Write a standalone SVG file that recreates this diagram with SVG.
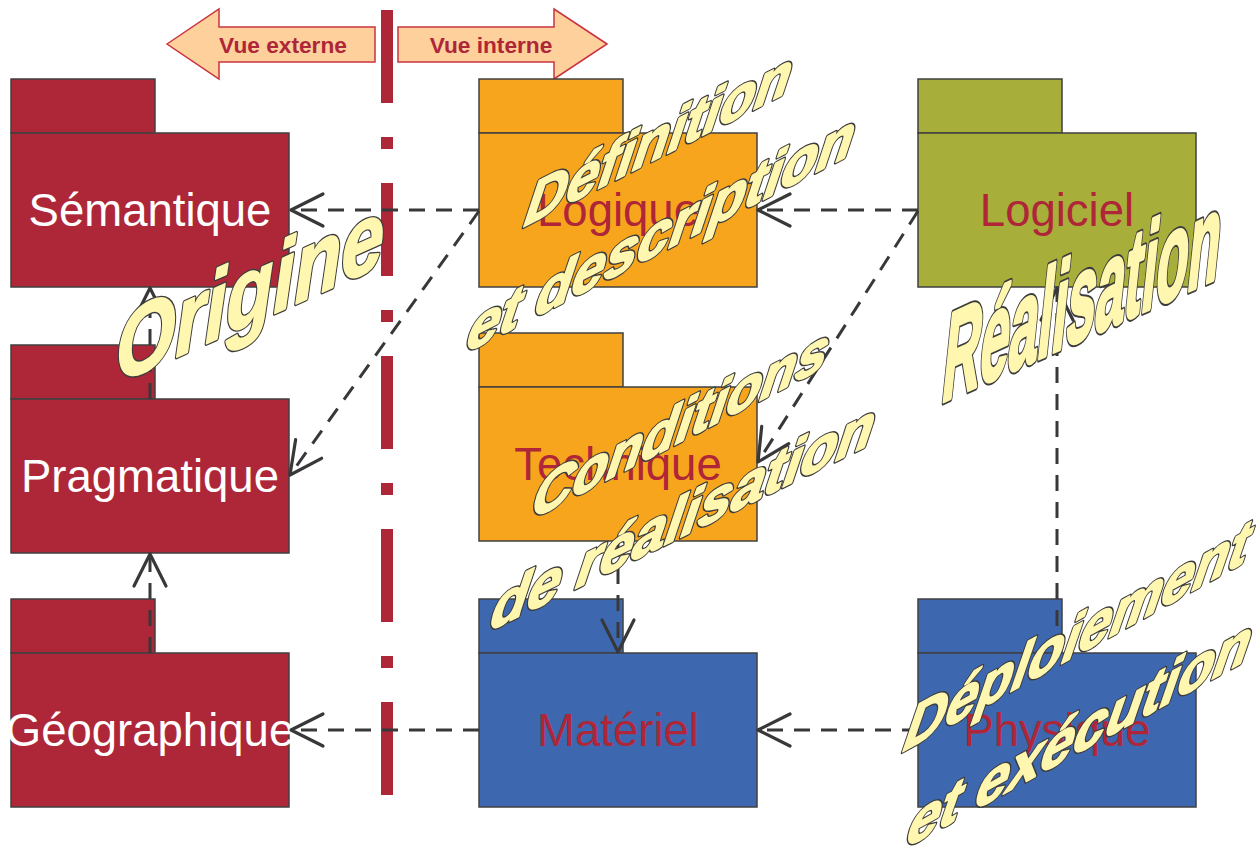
<svg xmlns="http://www.w3.org/2000/svg" xmlns:xlink="http://www.w3.org/1999/xlink" width="1258" height="847" viewBox="0 0 1258 847">
<style>
.pk{stroke:#404040;stroke-width:1.5}
.red{fill:#AE2739}.org{fill:#F6A51D}.olv{fill:#A8AE3A}.blu{fill:#3D68B0}
.lbl{font-family:"Liberation Sans",Arial,sans-serif;font-size:45.5px;text-anchor:middle}
.w{fill:#FFFFFF}.r{fill:#AE2638}
.cn{fill:none;stroke:#383838;stroke-width:3;stroke-dasharray:16 11;marker-end:url(#arr)}
.ba{fill:#FDD09C;stroke:#C9333F;stroke-width:1.5}
.bt{font-family:"Liberation Sans",Arial,sans-serif;font-weight:bold;font-size:22.7px;fill:#AE2638;text-anchor:middle}
.wt{font-family:"Liberation Sans",Arial,sans-serif;font-weight:bold;font-style:italic}
.wo{fill:#3C3C3C;stroke:#3C3C3C;stroke-width:4.8;stroke-linejoin:round}
.wf{fill:#FFF7B0;stroke:#FFF7B0;stroke-width:2.1;stroke-linejoin:round}
.wo2{fill:#3C3C3C;stroke:#3C3C3C;stroke-width:8;stroke-linejoin:round}
.wf2{fill:#FFF7B0;stroke:#FFF7B0;stroke-width:4;stroke-linejoin:round}
</style>
<defs>
<marker id="arr" markerUnits="userSpaceOnUse" markerWidth="44" markerHeight="44" viewBox="-38 -22 44 44" refX="0" refY="0" orient="auto" overflow="visible">
<path d="M-32,-16 L0,0 L-32,16" fill="none" stroke="#383838" stroke-width="3.2" stroke-linecap="round" stroke-linejoin="round"/>
</marker>
<text id="tOrigine" class="wt" font-size="97" textLength="268" lengthAdjust="spacingAndGlyphs" transform="matrix(1,-0.447,0,1,116,384)">Origine</text>
<text id="tDef" class="wt" font-size="61" textLength="265" lengthAdjust="spacingAndGlyphs" transform="matrix(1,-0.51,-0.18,1,523,227)">Définition</text>
<text id="tDesc" class="wt" font-size="62" textLength="386" lengthAdjust="spacingAndGlyphs" transform="matrix(1,-0.515,-0.18,1,465,353)">et description</text>
<text id="tCond" class="wt" font-size="60" textLength="295" lengthAdjust="spacingAndGlyphs" transform="matrix(1,-0.52,-0.18,1,530,520)">Conditions</text>
<text id="tReal1" class="wt" font-size="62" textLength="382" lengthAdjust="spacingAndGlyphs" transform="matrix(1,-0.49,-0.18,1,489,631)">de réalisation</text>
<text id="tReal2" class="wt" font-size="128" textLength="277" lengthAdjust="spacingAndGlyphs" transform="matrix(1,-0.45,-0.105,1,940,403)" style="font-style:normal">Réalisation</text>
<text id="tDep" class="wt" font-size="63" textLength="343" lengthAdjust="spacingAndGlyphs" transform="matrix(1,-0.555,-0.2,1,902,752)">Déploiement</text>
<text id="tExe" class="wt" font-size="63" textLength="342" lengthAdjust="spacingAndGlyphs" transform="matrix(1,-0.55,-0.2,1,905,848)">et exécution</text>
</defs>
<rect width="1258" height="847" fill="#FFFFFF"/>

<g id="vue-externe">
<polygon class="ba" points="167,44 219,9 219,27 375,27 375,62 219,62 219,79"/>
<text class="bt" x="283" y="53">Vue externe</text>
</g>
<g id="vue-interne">
<polygon class="ba" points="607,44 554,9 554,27 398,27 398,62 554,62 554,79"/>
<text class="bt" x="491" y="53">Vue interne</text>
</g>

<line id="separator" x1="387" y1="10" x2="387" y2="796" stroke="#AE2739" stroke-width="12" stroke-dasharray="93 34 12 34"/>

<g id="semantique">
<rect class="pk red" x="11" y="79" width="144" height="54"/>
<rect class="pk red" x="11" y="133" width="278" height="154"/>
<text class="lbl w" x="150" y="226">Sémantique</text>
</g>
<g id="pragmatique">
<rect class="pk red" x="11" y="345" width="144" height="54"/>
<rect class="pk red" x="11" y="399" width="278" height="154"/>
<text class="lbl w" x="150" y="492">Pragmatique</text>
</g>
<g id="geographique">
<rect class="pk red" x="11" y="599" width="144" height="54"/>
<rect class="pk red" x="11" y="653" width="278" height="154"/>
<text class="lbl w" x="150" y="746">Géographique</text>
</g>
<g id="logique">
<rect class="pk org" x="479" y="79" width="144" height="54"/>
<rect class="pk org" x="479" y="133" width="278" height="154"/>
<text class="lbl r" x="618" y="226">Logique</text>
</g>
<g id="technique">
<rect class="pk org" x="479" y="333" width="144" height="54"/>
<rect class="pk org" x="479" y="387" width="278" height="154"/>
<text class="lbl r" x="618" y="480">Technique</text>
</g>
<g id="materiel">
<rect class="pk blu" x="479" y="599" width="144" height="54"/>
<rect class="pk blu" x="479" y="653" width="278" height="154"/>
<text class="lbl r" x="618" y="746">Matériel</text>
</g>
<g id="logiciel">
<rect class="pk olv" x="918" y="79" width="144" height="54"/>
<rect class="pk olv" x="918" y="133" width="278" height="154"/>
<text class="lbl r" x="1057" y="226">Logiciel</text>
</g>
<g id="physique">
<rect class="pk blu" x="918" y="599" width="144" height="54"/>
<rect class="pk blu" x="918" y="653" width="278" height="154"/>
<text class="lbl r" x="1057" y="746">Physique</text>
</g>

<g id="connectors">
<path class="cn" d="M479,210 H291"/>
<path class="cn" d="M479,211 L290,475"/>
<path class="cn" d="M918,210 H758"/>
<path class="cn" d="M918,211 L758,462"/>
<path class="cn" d="M618,541 V652"/>
<path class="cn" d="M1057,653 V288"/>
<path class="cn" d="M918,730 H758"/>
<path class="cn" d="M479,730 H291"/>
<path class="cn" d="M150,653 V554"/>
<path class="cn" d="M150,399 V288"/>
</g>

<g id="wordart">
<use xlink:href="#tOrigine" class="wo"/><use xlink:href="#tOrigine" class="wf"/>
<use xlink:href="#tDef" class="wo"/><use xlink:href="#tDef" class="wf"/>
<use xlink:href="#tDesc" class="wo"/><use xlink:href="#tDesc" class="wf"/>
<use xlink:href="#tCond" class="wo"/><use xlink:href="#tCond" class="wf"/>
<use xlink:href="#tReal1" class="wo"/><use xlink:href="#tReal1" class="wf"/>
<use xlink:href="#tReal2" class="wo2"/><use xlink:href="#tReal2" class="wf2"/>
<use xlink:href="#tDep" class="wo"/><use xlink:href="#tDep" class="wf"/>
<use xlink:href="#tExe" class="wo"/><use xlink:href="#tExe" class="wf"/>
</g>
</svg>
